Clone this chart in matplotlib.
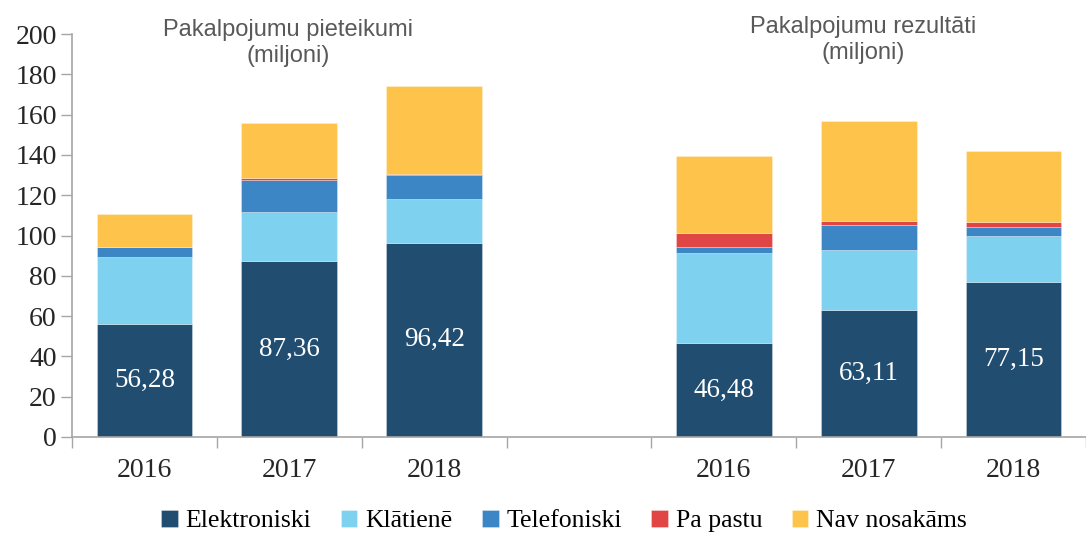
import matplotlib
matplotlib.use("Agg")
import matplotlib.pyplot as plt
import numpy as np

categories = ["2016", "2017", "2018", "", "2016", "2017", "2018"]
series_names = ["Elektroniski", "Klātienē", "Telefoniski", "Pa pastu", "Nav nosakāms"]
# values per slot (empty slot at index 3)
elektroniski = [56.28, 87.36, 96.42, 0, 46.48, 63.11, 77.15]
klatiene = [33.0, 24.5, 21.6, 0, 44.9, 29.5, 22.6]
telefoniski = [4.9, 15.9, 12.2, 0, 2.8, 12.5, 4.3]
pa_pastu = [0.3, 0.7, 0.5, 0, 7.3, 2.0, 2.8]
nav_nosakams = [16.2, 27.2, 43.3, 0, 38.0, 49.6, 35.2]
label_values = ["56,28", "87,36", "96,42", "", "46,48", "63,11", "77,15"]
group_titles = ["Pakalpojumu pieteikumi\n(miljoni)", "Pakalpojumu rezultāti\n(miljoni)"]
y_ticks = [0, 20, 40, 60, 80, 100, 120, 140, 160, 180, 200]

colors = ["#214D71", "#7FD1F0", "#3D86C5", "#E04744", "#FEC34A"]
series = [elektroniski, klatiene, telefoniski, pa_pastu, nav_nosakams]

fig = plt.figure(figsize=(10.86, 5.35), dpi=100)
W, H = 1086, 535
ax_left, ax_right = 72, 1086
ax_bottom, ax_top = 437, 34
ax = fig.add_axes([ax_left / W, 1 - ax_bottom / H, (ax_right - ax_left) / W, (ax_bottom - ax_top) / H])

x = np.arange(len(categories))
mask = np.array([c != "" for c in categories])
bottom = np.zeros(len(categories))
for name, vals, col in zip(series_names, series, colors):
    v = np.array(vals, dtype=float)
    ax.bar(x[mask], v[mask], bottom=bottom[mask], width=0.66, color=col,
           edgecolor=(1, 1, 1, 0.35), linewidth=0.6, label=name)
    bottom += v

for xi, ev, lab in zip(x, elektroniski, label_values):
    if lab:
        ax.text(xi, ev / 2, lab, ha="center", va="center", color="white",
                fontsize=19.5, family="Liberation Serif")

ax.set_xlim(-0.5, 6.42)
ax.set_ylim(0, 200)
ax.set_yticks(y_ticks)
ax.set_yticklabels([str(t) for t in y_ticks], family="Liberation Serif", fontsize=20, color="#262626")

ax.set_xticks(np.arange(-0.5, 7, 1.0))
ax.set_xticklabels([])
ax.set_xticks(x[mask], minor=True)
ax.set_xticklabels([c for c in categories if c], minor=True, family="Liberation Serif",
                   fontsize=20, color="#262626")
ax.tick_params(axis="x", which="major", length=8, color="#A6A6A6", width=1)
ax.tick_params(axis="x", which="minor", length=0, pad=15)
ax.tick_params(axis="y", length=8, color="#A6A6A6", width=1, pad=3)

for s in ["top", "right"]:
    ax.spines[s].set_visible(False)
for s in ["left", "bottom"]:
    ax.spines[s].set_color("#A6A6A6")
    ax.spines[s].set_linewidth(1.2)

fig.text(288 / W, 1 - 43 / H, group_titles[0], ha="center", va="center", fontsize=17,
         family="Liberation Sans", color="#595959", linespacing=1.25)
fig.text(863 / W, 1 - 40 / H, group_titles[1], ha="center", va="center", fontsize=17,
         family="Liberation Sans", color="#595959", linespacing=1.25)

leg = fig.legend(loc="center", bbox_to_anchor=(564 / W, 1 - 521 / H), ncol=5, frameon=False,
                 prop={"family": "Liberation Serif", "size": 18.5}, handlelength=0.65,
                 handleheight=0.65, handletextpad=0.3, columnspacing=1.15)

fig.savefig("out.png", dpi=100)
